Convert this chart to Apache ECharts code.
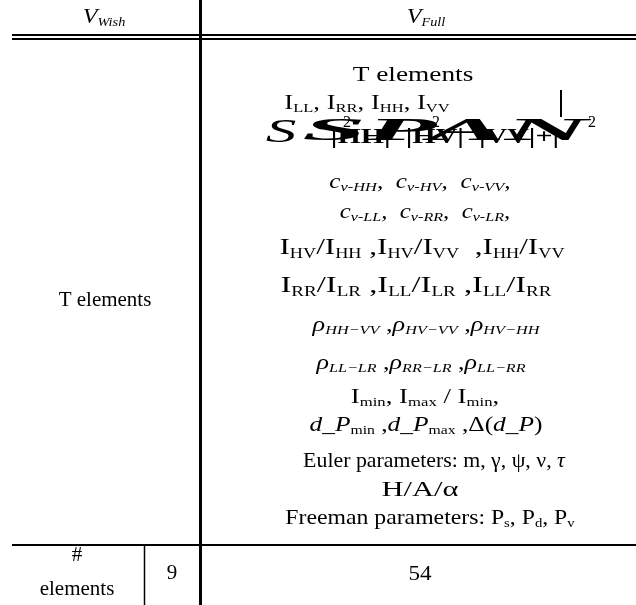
<!DOCTYPE html>
<html><head><meta charset="utf-8">
<script src="https://cdn.jsdelivr.net/npm/echarts@6/dist/echarts.min.js"></script>
<style>html,body{margin:0;padding:0;background:#fff}#c{width:636px;height:605px}</style>
</head><body><div id="c"></div>
<script>
// ---- content ----
const headerMain = ['V', 'V'];
const headerSub = ['Wish', 'Full'];
const leftCellText = 'T elements';
const countLabel = ['#', 'elements'];
const counts = ['9', '54'];
const rightRows = [
  '{n|T elements}',
  '{n|I}{s|LL}{n|, I}{s|RR}{n|, I}{s|HH}{n|, I}{s|VV}',
  'SPAN',
  '{ci|c}{cs|v-HH}{ci|,  c}{cs|v-HV}{ci|,  c}{cs|v-VV}{ci|,}',
  '{ci|c}{cs|v-LL}{ci|,  c}{cs|v-RR}{ci|,  c}{cs|v-LR}{ci|,}',
  '{b|I}{bs|HV}{b|/I}{bs|HH}{b| ,I}{bs|HV}{b|/I}{bs|VV}{b|  ,I}{bs|HH}{b|/I}{bs|VV}',
  '{b|I}{bs|RR}{b|/I}{bs|LR}{b| ,I}{bs|LL}{b|/I}{bs|LR}{b| ,I}{bs|LL}{b|/I}{bs|RR}',
  '{i|ρ}{is|HH−VV}{n| ,}{i|ρ}{is|HV−VV}{n| ,}{i|ρ}{is|HV−HH}',
  '{i|ρ}{is|LL−LR}{n| ,}{i|ρ}{is|RR−LR}{n| ,}{i|ρ}{is|LL−RR}',
  '{n|I}{s|min}{n|, I}{s|max}{n| / I}{s|min}{n|,}',
  '{i|d_P}{s|min}{n| ,}{i|d_P}{s|max}{n| ,Δ(}{i|d_P}{n|)}',
  '{n|Euler parameters: m, γ, ψ, ν, }{i|τ}',
  '{n|H/A/α}',
  '{n|Freeman parameters: P}{s|s}{n|, P}{s|d}{n|, P}{s|v}'
];

// ---- layout ----
const rowCX = [413, 367, 425, 420, 425, 422, 416, 426, 421, 425, 426, 434, 420, 430];
const rowCY = [75, 103, 133, 183, 213, 248, 286, 325, 363, 397, 425, 461, 490, 518];
const rowSX = [1.3, 1.27, 1, 1.26, 1.24, 1.3, 1.36, 1.25, 1.24, 1.28, 1.21, 1.04, 1.45, 1.13];

const FONT = '"Liberation Serif","Times New Roman",serif';
const rich = {
  n: {fontFamily: FONT, fontSize: 21, lineHeight: 26, color: '#000'},
  i: {fontFamily: FONT, fontSize: 21, fontStyle: 'italic', lineHeight: 26, color: '#000'},
  s: {fontFamily: FONT, fontSize: 13, padding: [11, 0, 0, 0], lineHeight: 14, color: '#000'},
  is: {fontFamily: FONT, fontSize: 13, fontStyle: 'italic', padding: [11, 0, 0, 0], lineHeight: 14, color: '#000'},
  b: {fontFamily: FONT, fontSize: 24, lineHeight: 28, color: '#000'},
  bs: {fontFamily: FONT, fontSize: 14, padding: [12, 0, 0, 0], lineHeight: 15, color: '#000'},
  ci: {fontFamily: FONT, fontSize: 20, fontStyle: 'italic', lineHeight: 24, color: '#000'},
  cs: {fontFamily: FONT, fontSize: 13, fontStyle: 'italic', padding: [10, 0, 0, 0], lineHeight: 14, color: '#000'},
  hv: {fontFamily: FONT, fontSize: 22, fontStyle: 'italic', lineHeight: 26, color: '#000'},
  hs: {fontFamily: FONT, fontSize: 13, fontStyle: 'italic', padding: [11, 0, 0, 0], lineHeight: 14, color: '#000'}
};

function txt(x, y, text, sx) {
  return {
    type: 'text', x: x, y: y, scaleX: sx || 1,
    style: {text: text, rich: rich, align: 'center', verticalAlign: 'middle', fill: '#000',
            font: '21px ' + FONT}
  };
}
function plain(x, y, text, font, sx) {
  return {type: 'text', x: x, y: y, scaleX: sx || 1,
    style: {text: text, font: font, fill: '#000', align: 'center', verticalAlign: 'middle'}};
}
function line(x1, y1, x2, y2, w) {
  return {type: 'line', shape: {x1, y1, x2, y2}, style: {stroke: '#000', lineWidth: w}};
}

const g = [];
// rules
g.push(line(12, 35, 636, 35, 2));
g.push(line(12, 39, 636, 39, 2));
g.push(line(200.5, 0, 200.5, 605, 3));
g.push(line(12, 545, 636, 545, 2));
g.push(line(144.5, 545, 144.5, 605, 1.5));
g.push(line(561, 90, 561, 117, 2));

// headers
const headerCX = [104, 426];
headerMain.forEach((m, k) => {
  g.push(txt(headerCX[k], 17, '{hv|' + m + '}{hs|' + headerSub[k] + '}', 1.1));
});

// right rows
rightRows.forEach((r, k) => {
  if (r === 'SPAN') {
    const y = rowCY[k];
    // garbled span formula (as rendered in the source)
    g.push(plain(281, y, 'S', 'italic 34px ' + FONT, 1.8));
    g.push(plain(445, y - 1, 'SPAN', 'italic bold 32px ' + FONT, 3.6));
    g.push(plain(445, y + 5, '|HH|  |HV|  |VV|+|', 'bold 20px ' + FONT, 1.5));
    g.push(plain(347, y - 10, '2', '16px ' + FONT));
    g.push(plain(436, y - 10, '2', '16px ' + FONT));
    g.push(plain(592, y - 10, '2', '16px ' + FONT));
  } else {
    g.push(txt(rowCX[k], rowCY[k], r, rowSX[k]));
  }
});

// left cell
g.push(txt(105, 300, '{n|' + leftCellText + '}'));
g.push(txt(77, 555, '{n|' + countLabel[0] + '}'));
g.push(txt(77, 589, '{n|' + countLabel[1] + '}'));
g.push(txt(172, 573, '{n|' + counts[0] + '}'));
g.push(txt(420, 574, '{n|' + counts[1] + '}', 1.1));

const chart = echarts.init(document.getElementById('c'), null, {renderer: 'canvas'});
chart.setOption({backgroundColor: '#fff', animation: false, graphic: {elements: g}});
</script>
</body></html>
